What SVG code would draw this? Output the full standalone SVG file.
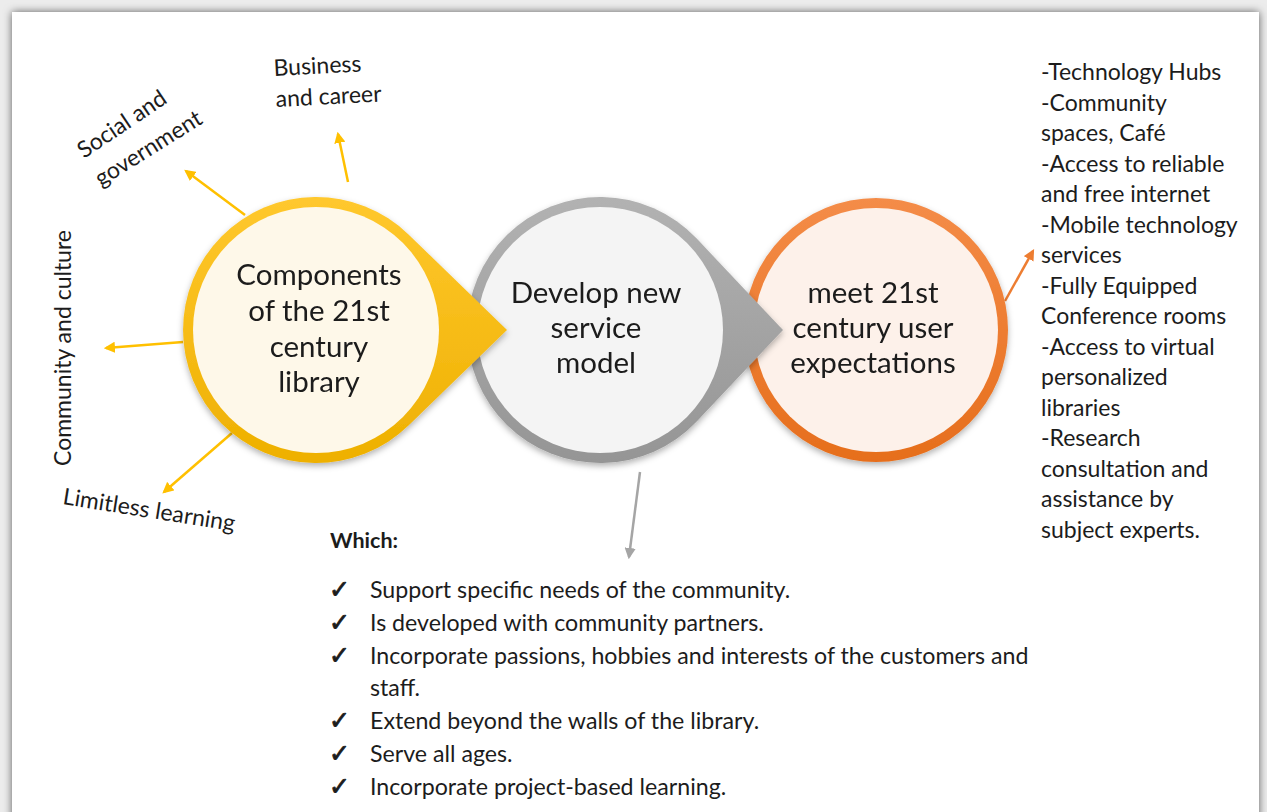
<svg xmlns="http://www.w3.org/2000/svg" width="1267" height="812" viewBox="0 0 1267 812">
  <defs>
    <style>
      text { font-family: Lato, "Open Sans", "Liberation Sans", sans-serif; fill: #1c1c1c; }
      .big { font-size: 29.5px; text-anchor: middle; }
      .lbl { font-size: 23px; }
      .lst { font-size: 23px; }
      .chk { font-size: 23.2px; }
      .tick { font-family: "DejaVu Sans", sans-serif; font-size: 25px; stroke: #1c1c1c; stroke-width: 0.9; }
      .ya { stroke: #FFC000; stroke-width: 2.5; fill: none; marker-end: url(#ah-y); }
      .oa { stroke: #ED7D31; stroke-width: 2.5; fill: none; marker-end: url(#ah-o); }
      .ga { stroke: #A5A5A5; stroke-width: 2.5; fill: none; marker-end: url(#ah-g); }
    </style>
    <linearGradient id="g-yellow" x1="0" y1="0" x2="0" y2="1">
      <stop offset="0" stop-color="#FFC82E"/>
      <stop offset="1" stop-color="#EEB000"/>
    </linearGradient>
    <linearGradient id="g-gray" x1="0" y1="0" x2="0" y2="1">
      <stop offset="0" stop-color="#B2B2B2"/>
      <stop offset="1" stop-color="#959595"/>
    </linearGradient>
    <linearGradient id="g-orange" x1="0" y1="0" x2="0" y2="1">
      <stop offset="0" stop-color="#F48C48"/>
      <stop offset="1" stop-color="#E66E1C"/>
    </linearGradient>
    <filter id="page-shadow" x="-5%" y="-5%" width="110%" height="110%">
      <feDropShadow dx="0" dy="0" stdDeviation="4" flood-color="#000" flood-opacity="0.6"/>
    </filter>
    <filter id="node-shadow" x="-20%" y="-20%" width="140%" height="140%">
      <feDropShadow dx="0" dy="3" stdDeviation="3" flood-color="#000" flood-opacity="0.3"/>
    </filter>
    <marker id="ah-y" viewBox="0 0 10 10" refX="8" refY="5" markerWidth="4.5" markerHeight="4.5" orient="auto" markerUnits="strokeWidth">
      <path d="M0,0 L10,5 L0,10 Z" fill="#FFC000"/>
    </marker>
    <marker id="ah-o" viewBox="0 0 10 10" refX="8" refY="5" markerWidth="4.5" markerHeight="4.5" orient="auto" markerUnits="strokeWidth">
      <path d="M0,0 L10,5 L0,10 Z" fill="#ED7D31"/>
    </marker>
    <marker id="ah-g" viewBox="0 0 10 10" refX="8" refY="5" markerWidth="4.5" markerHeight="4.5" orient="auto" markerUnits="strokeWidth">
      <path d="M0,0 L10,5 L0,10 Z" fill="#A5A5A5"/>
    </marker>
  </defs>

  <!-- page background and sheet -->
  <rect x="0" y="0" width="1267" height="812" fill="#ececec"/>
  <rect x="12" y="12" width="1247" height="830" fill="#ffffff" filter="url(#page-shadow)"/>

  <!-- connectors -->
  <g id="connectors">
    <line class="ya" x1="245" y1="215" x2="186" y2="171"/>
    <line class="ya" x1="348" y1="182" x2="338" y2="134"/>
    <line class="ya" x1="183" y1="342" x2="106" y2="348"/>
    <line class="ya" x1="232" y1="433" x2="164" y2="492"/>
    <line class="oa" x1="1005" y1="301" x2="1033" y2="251"/>
    <line class="ga" x1="640" y1="472" x2="629" y2="557"/>
  </g>

  <!-- node: meet expectations -->
  <g id="node-expectations" filter="url(#node-shadow)">
    <circle cx="876" cy="330" r="132" fill="url(#g-orange)"/>
    <circle cx="876" cy="330" r="122" fill="#FDF1EA"/>
    <text class="big" x="873" y="303">meet 21st</text>
    <text class="big" x="873" y="338">century user</text>
    <text class="big" x="873" y="373">expectations</text>
  </g>

  <!-- node: develop service model -->
  <g id="node-service" filter="url(#node-shadow)">
    <path d="M696.7,238.6 L783,330 L696.7,421.4 A133,133 0 1 1 696.7,238.6 Z" fill="url(#g-gray)"/>
    <circle cx="600" cy="330" r="123" fill="#F4F4F4"/>
    <text class="big" x="596" y="303">Develop new</text>
    <text class="big" x="596" y="338">service</text>
    <text class="big" x="596" y="373">model</text>
  </g>

  <!-- node: components -->
  <g id="node-components" filter="url(#node-shadow)">
    <path d="M408.5,234.4 L507,330 L408.5,425.6 A133,133 0 1 1 408.5,234.4 Z" fill="url(#g-yellow)"/>
    <circle cx="316" cy="330" r="123" fill="#FEF8E9"/>
    <text class="big" x="319" y="285">Components</text>
    <text class="big" x="319" y="321">of the 21st</text>
    <text class="big" x="319" y="357">century</text>
    <text class="big" x="319" y="392">library</text>
  </g>

  <!-- satellite labels -->
  <g id="label-business">
    <text class="lbl" transform="translate(274,76) rotate(-3)">Business</text>
    <text class="lbl" transform="translate(276,107) rotate(-3)">and career</text>
  </g>
  <g id="label-social">
    <text class="lbl" transform="translate(84,159) rotate(-34)">Social and</text>
    <text class="lbl" transform="translate(101,187) rotate(-32)">government</text>
  </g>
  <g id="label-community">
    <text class="lbl" transform="translate(71,466) rotate(-90)">Community and culture</text>
  </g>
  <g id="label-limitless">
    <text class="lbl" transform="translate(62,504) rotate(9)">Limitless learning</text>
  </g>

  <!-- services list -->
  <g id="services-list">
    <text class="lst" x="1041" y="80">-Technology Hubs</text>
    <text class="lst" x="1041" y="110.5">-Community</text>
    <text class="lst" x="1041" y="141">spaces, Café</text>
    <text class="lst" x="1041" y="171.5">-Access to reliable</text>
    <text class="lst" x="1041" y="202">and free internet</text>
    <text class="lst" x="1041" y="232.5">-Mobile technology</text>
    <text class="lst" x="1041" y="263">services</text>
    <text class="lst" x="1041" y="293.5">-Fully Equipped</text>
    <text class="lst" x="1041" y="324">Conference rooms</text>
    <text class="lst" x="1041" y="354.5">-Access to virtual</text>
    <text class="lst" x="1041" y="385">personalized</text>
    <text class="lst" x="1041" y="415.5">libraries</text>
    <text class="lst" x="1041" y="446">-Research</text>
    <text class="lst" x="1041" y="476.5">consultation and</text>
    <text class="lst" x="1041" y="507">assistance by</text>
    <text class="lst" x="1041" y="537.5">subject experts.</text>
  </g>

  <!-- criteria checklist -->
  <g id="criteria">
    <text x="330" y="548" font-weight="bold" style="font-size:21.5px">Which:</text>
    <text class="tick" x="329" y="598">✓</text><text class="chk" x="370" y="598">Support specific needs of the community.</text>
    <text class="tick" x="329" y="631">✓</text><text class="chk" x="370" y="631">Is developed with community partners.</text>
    <text class="tick" x="329" y="664">✓</text><text class="chk" x="370" y="664">Incorporate passions, hobbies and interests of the customers and</text>
    <text class="chk" x="370" y="696">staff.</text>
    <text class="tick" x="329" y="729">✓</text><text class="chk" x="370" y="729">Extend beyond the walls of the library.</text>
    <text class="tick" x="329" y="762">✓</text><text class="chk" x="370" y="762">Serve all ages.</text>
    <text class="tick" x="329" y="795">✓</text><text class="chk" x="370" y="795">Incorporate project-based learning.</text>
  </g>
</svg>
